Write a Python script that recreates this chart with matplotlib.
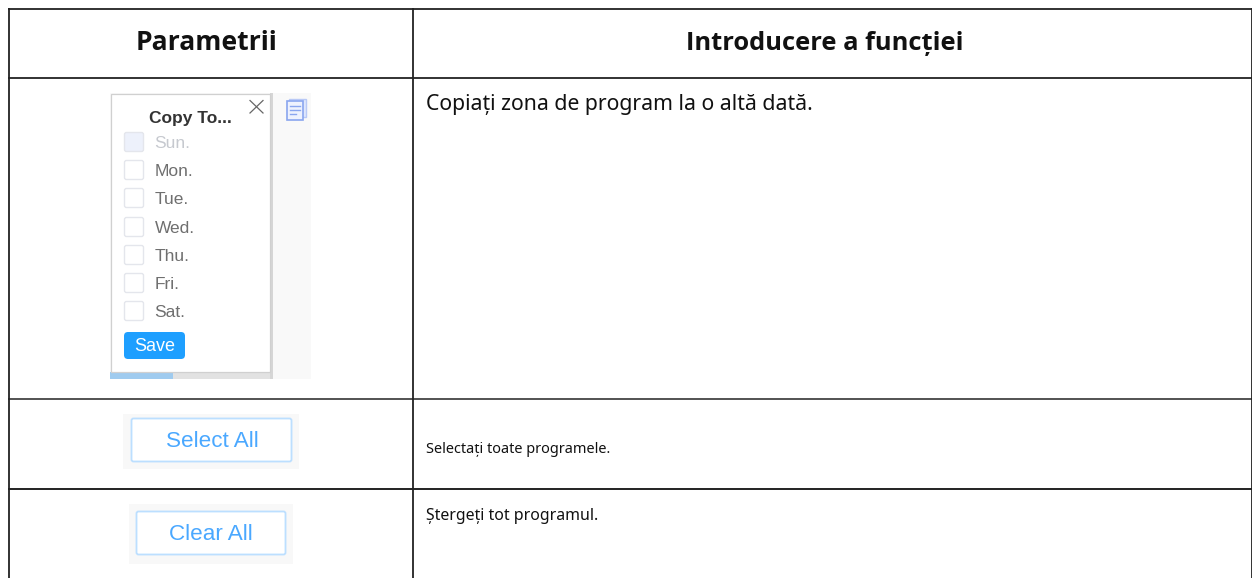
import matplotlib
matplotlib.use('Agg')
import matplotlib.pyplot as plt
from matplotlib.patches import Rectangle, FancyBboxPatch

headers = ['Parametrii', 'Introducere a funcției']
descriptions = ['Copiați zona de program la o altă dată.',
                'Selectați toate programele.',
                'Ștergeți tot programul.']
days = ['Sun.', 'Mon.', 'Tue.', 'Wed.', 'Thu.', 'Fri.', 'Sat.']
popup_title = 'Copy To...'
save_label = 'Save'
select_label = 'Select All'
clear_label = 'Clear All'

HEAD = ['Open Sans', 'Noto Sans', 'DejaVu Sans']
BODY = ['Noto Sans', 'DejaVu Sans']
UI = ['Liberation Sans', 'DejaVu Sans']
BLUE = '#1e9fff'

fig = plt.figure(figsize=(12.52, 5.78), dpi=100)
ax = fig.add_axes([0, 0, 1, 1])
ax.set_xlim(0, 1252)
ax.set_ylim(578, 0)
ax.axis('off')


def rect(x, y, w, h, fc='none', ec='none', lw=1.0, z=2):
    ax.add_patch(Rectangle((x, y), w, h, facecolor=fc, edgecolor=ec, linewidth=lw, zorder=z))


def rounded(x, y, w, h, r, fc='none', ec='none', lw=1.0, z=3):
    ax.add_patch(FancyBboxPatch((x, y), w, h, boxstyle=f'round,pad=0,rounding_size={r}',
                                facecolor=fc, edgecolor=ec, linewidth=lw, zorder=z))


# table grid
for y, col in [(8.5, '#222222'), (77.5, '#222222'), (398.5, '#444444'), (489, '#111111')]:
    ax.plot([8, 1252], [y, y], color=col, lw=1.3, zorder=5, solid_capstyle='butt')
for x in [8.5, 413, 1251.5]:
    ax.plot([x, x], [8, 578], color='#222222', lw=1.3, zorder=5, solid_capstyle='butt')

# header and description text
ax.text(206.5, 50.5, headers[0], family=HEAD, weight='bold', fontsize=19.1, color='#111111', ha='center', va='baseline')
ax.text(825, 50.5, headers[1], family=HEAD, weight='bold', fontsize=18.35, color='#111111', ha='center', va='baseline')
ax.text(426, 110, descriptions[0], family=BODY, fontsize=15.25, color='#111111', ha='left', va='baseline')
ax.text(426, 453, descriptions[1], family=BODY, fontsize=10.45, color='#111111', ha='left', va='baseline')
ax.text(426, 520, descriptions[2], family=BODY, fontsize=11.45, color='#111111', ha='left', va='baseline')

# copy popup screenshot
rect(110, 93, 201, 286, fc='#f9f9f9')
rect(110, 372, 63, 7, fc='#9fcbef')
rect(173, 372, 100, 7, fc='#e2e2e2')
rect(270, 93, 3, 286, fc='#d6d6d6')
rect(110.5, 94, 159.5, 278, fc='white', ec='#d0d0d0', lw=0.9, z=3)
ax.text(190.5, 123, popup_title, family=UI, weight='bold', fontsize=12.5, color='#333333', ha='center', va='baseline', zorder=4)
ax.plot([250, 263], [100.5, 113], color='#666666', lw=0.9, zorder=4)
ax.plot([250, 263], [113, 100.5], color='#666666', lw=0.9, zorder=4)

# copy icon
rect(289, 98.5, 17, 18, fc='#dfe7fd', ec='#b9c9f6', lw=1.0, z=4)
rect(287, 101, 16, 19, fc='#eef2fe', ec='#8aa6ef', lw=1.2, z=4)
for y, x2 in [(106, 300), (110, 300), (114, 296)]:
    ax.plot([290, x2], [y, y], color='#8aa6ef', lw=1.0, zorder=5)

# day checkboxes
day_tops = [132, 160, 188, 217, 245, 273, 301]
for i, (label, top) in enumerate(zip(days, day_tops)):
    first = i == 0
    rounded(124.5, top + 0.5, 19, 19, 2, fc='#edf1fb' if first else 'white', ec='#e4e6ec', lw=1.0, z=4)
    ax.text(154.5, top + 16, label, family=UI, fontsize=12.5, color='#c6c9cf' if first else '#6f6f6f',
            ha='left', va='baseline', zorder=5)

# save button
rounded(124, 332, 61, 27, 4, fc=BLUE)
ax.text(154.5, 351, save_label, family=UI, fontsize=13, color='white', ha='center', va='baseline', zorder=5)

# select all / clear all buttons
rect(123, 414, 176, 55, fc='#f8f8f8')
rounded(131.5, 418.5, 160, 43, 2, fc='white', ec='#bcdfff', lw=1.3)
ax.text(212, 447, select_label, family=UI, fontsize=16.2, color='#4aa8ff', ha='center', va='baseline', zorder=5)

rect(129, 504, 164, 60, fc='#f8f8f8')
rounded(136.5, 511.5, 149, 43, 2, fc='white', ec='#bcdfff', lw=1.3)
ax.text(211, 540.5, clear_label, family=UI, fontsize=16.2, color='#4aa8ff', ha='center', va='baseline', zorder=5)

fig.savefig('out.png', dpi=100)
